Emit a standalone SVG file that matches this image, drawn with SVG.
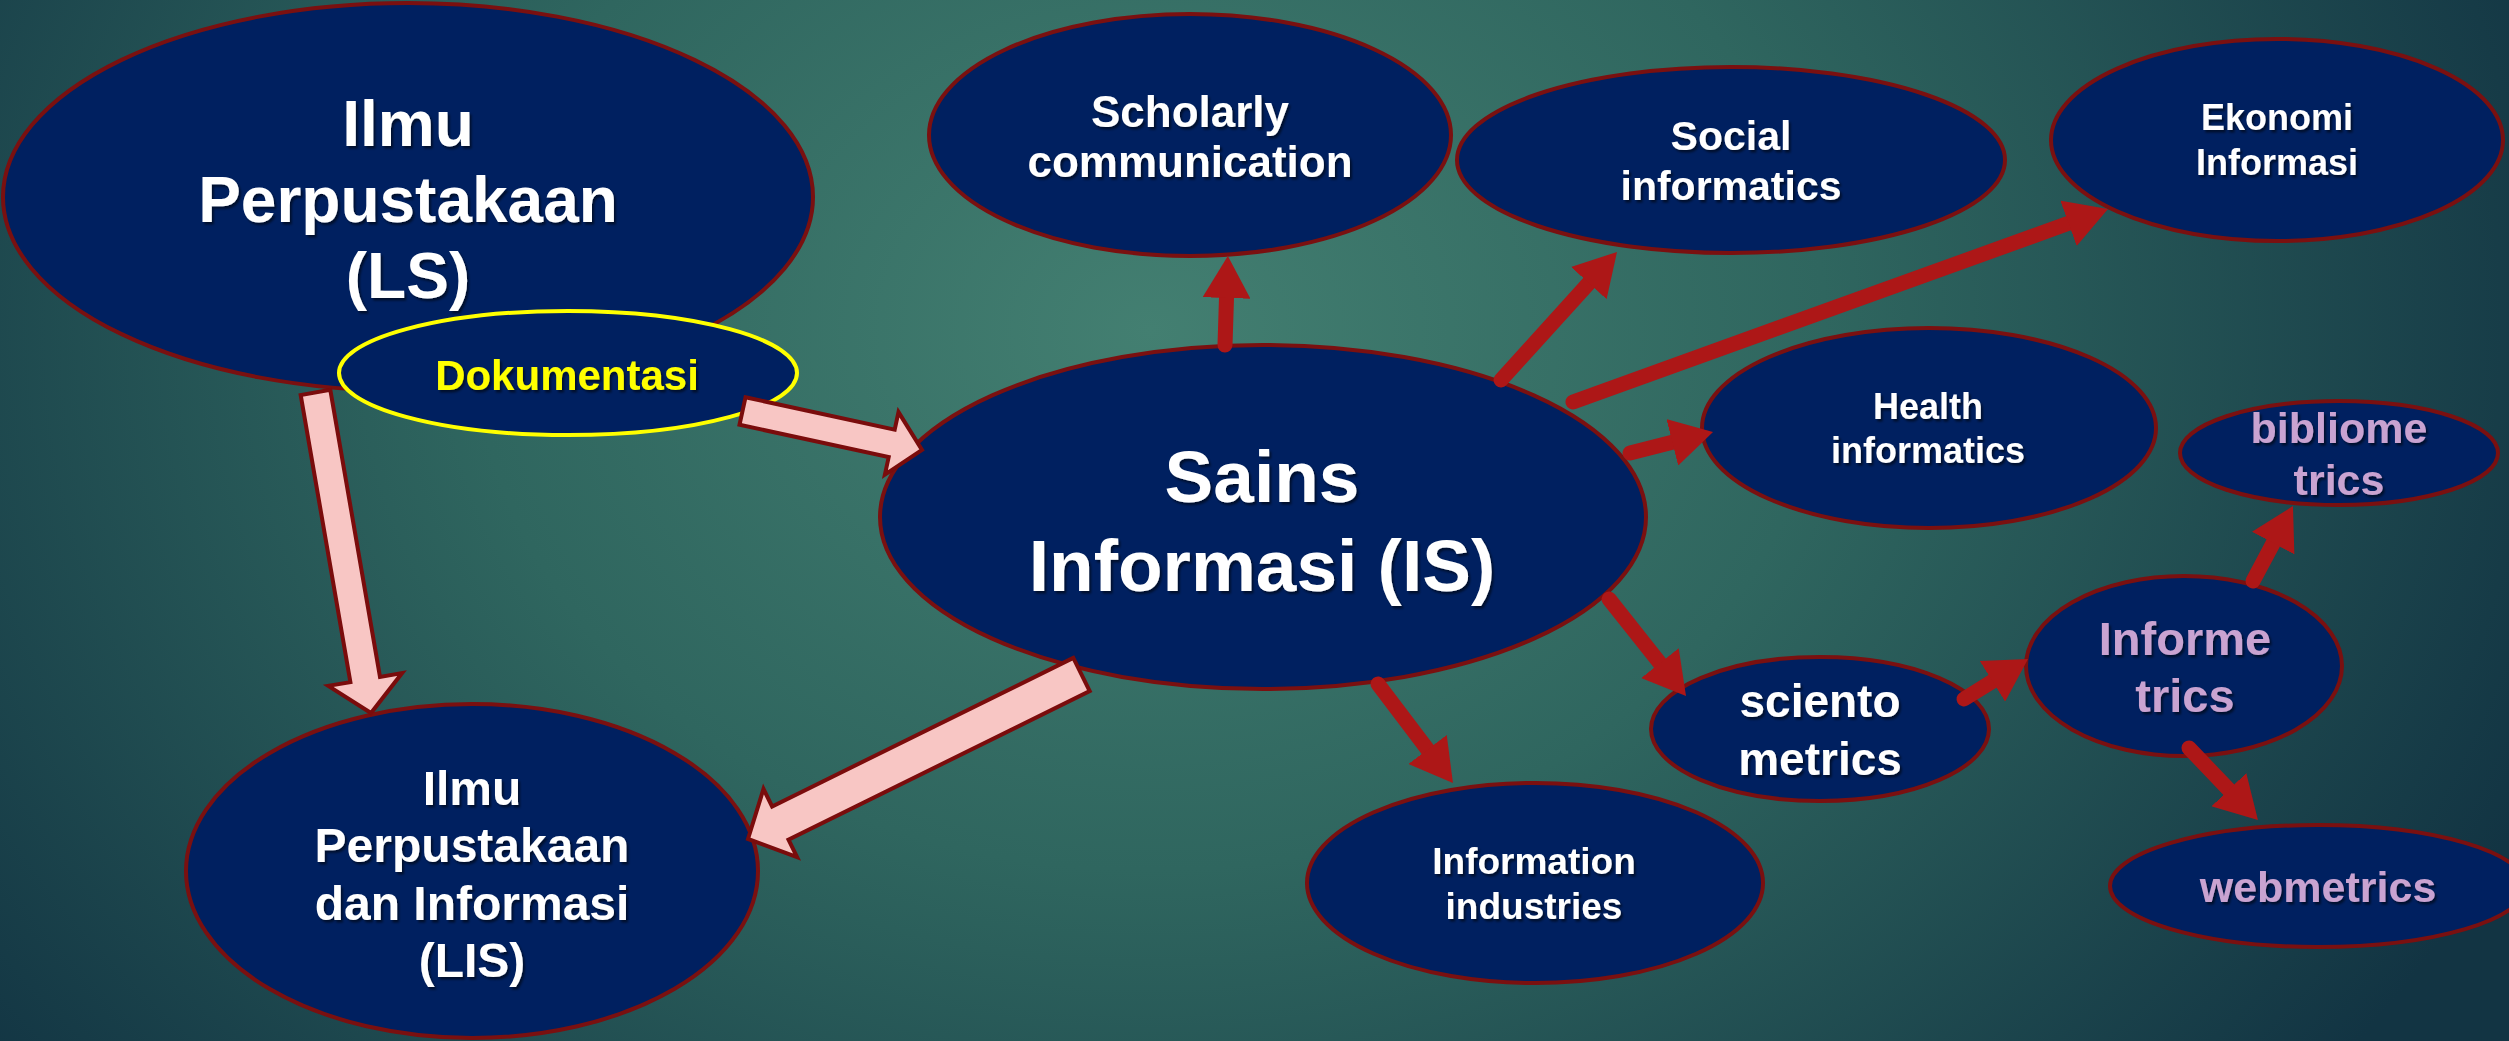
<svg xmlns="http://www.w3.org/2000/svg" width="2509" height="1041" viewBox="0 0 2509 1041">
  <defs>
    <radialGradient id="bg" gradientUnits="userSpaceOnUse" cx="1150" cy="330" r="1500" gradientTransform="translate(1150 330) scale(1 0.8) translate(-1150 -330)">
      <stop offset="0" stop-color="#437f71"/>
      <stop offset="0.45" stop-color="#2f665f"/>
      <stop offset="1" stop-color="#123443"/>
    </radialGradient>
    <filter id="shadow" x="-10%" y="-10%" width="120%" height="130%">
      <feDropShadow dx="2" dy="2.5" stdDeviation="1.2" flood-color="#000000" flood-opacity="0.55"/>
    </filter>
    <marker id="head" markerUnits="userSpaceOnUse" viewBox="0 0 42 48" markerWidth="42" markerHeight="48" refX="0" refY="24" orient="auto">
      <path d="M0,0 L42,24 L0,48 Z" fill="#ad1717"/>
    </marker>
    <style>
      .node { fill: #002060; stroke: #7a1010; stroke-width: 4; }
      .doc { fill: #002060; stroke: #ffff00; stroke-width: 4; }
      .t { font-family: "Liberation Sans", Arial, sans-serif; font-weight: bold; text-anchor: middle; filter: url(#shadow); }
      .w { fill: #ffffff; }
      .y { fill: #ffff00; }
      .l { fill: #c9a3d1; }
      .block { fill: #f8c6c4; stroke: #7a0c0c; stroke-width: 4; stroke-linejoin: miter; }
      .red { stroke: #ad1717; stroke-width: 15; stroke-linecap: round; fill: none; marker-end: url(#head); }
    </style>
  </defs>

  <rect x="0" y="0" width="2509" height="1041" fill="url(#bg)"/>

  <g id="nodes">
    <g id="ls">
      <ellipse class="node" cx="408" cy="197" rx="405" ry="194"/>
      <text class="t w" font-size="64" x="408" y="146">Ilmu</text>
      <text class="t w" font-size="64" x="408" y="222">Perpustakaan</text>
      <text class="t w" font-size="64" x="408" y="298">(LS)</text>
    </g>
    <g id="dokumentasi">
      <ellipse class="doc" cx="568" cy="373" rx="229" ry="62"/>
      <text class="t y" font-size="42" x="567" y="390">Dokumentasi</text>
    </g>
    <g id="is">
      <ellipse class="node" cx="1263" cy="517" rx="383" ry="172"/>
      <text class="t w" font-size="73" x="1262" y="502">Sains</text>
      <text class="t w" font-size="73" x="1262" y="591">Informasi (IS)</text>
    </g>
    <g id="scholarly">
      <ellipse class="node" cx="1190" cy="135" rx="261" ry="121"/>
      <text class="t w" font-size="44" x="1190" y="127">Scholarly</text>
      <text class="t w" font-size="44" x="1190" y="177">communication</text>
    </g>
    <g id="social">
      <ellipse class="node" cx="1731" cy="160" rx="274" ry="93"/>
      <text class="t w" font-size="41" x="1731" y="150">Social</text>
      <text class="t w" font-size="41" x="1731" y="200">informatics</text>
    </g>
    <g id="ekonomi">
      <ellipse class="node" cx="2277" cy="140" rx="226" ry="101"/>
      <text class="t w" font-size="36" x="2277" y="130">Ekonomi</text>
      <text class="t w" font-size="36" x="2277" y="175">Informasi</text>
    </g>
    <g id="health">
      <ellipse class="node" cx="1929" cy="428" rx="227" ry="100"/>
      <text class="t w" font-size="36" x="1928" y="419">Health</text>
      <text class="t w" font-size="36" x="1928" y="463">informatics</text>
    </g>
    <g id="bibliometrics">
      <ellipse class="node" cx="2339" cy="453" rx="159" ry="52"/>
      <text class="t l" font-size="43" x="2339" y="443">bibliome</text>
      <text class="t l" font-size="43" x="2339" y="495">trics</text>
    </g>
    <g id="informetrics">
      <ellipse class="node" cx="2184" cy="666" rx="158" ry="90"/>
      <text class="t l" font-size="47" x="2185" y="655">Informe</text>
      <text class="t l" font-size="47" x="2185" y="712">trics</text>
    </g>
    <g id="scientometrics">
      <ellipse class="node" cx="1820" cy="729" rx="169" ry="72"/>
      <text class="t w" font-size="46" x="1820" y="717">sciento</text>
      <text class="t w" font-size="46" x="1820" y="775">metrics</text>
    </g>
    <g id="webmetrics">
      <ellipse class="node" cx="2318" cy="886" rx="208" ry="61"/>
      <text class="t l" font-size="43" x="2318" y="902">webmetrics</text>
    </g>
    <g id="industries">
      <ellipse class="node" cx="1535" cy="883" rx="228" ry="100"/>
      <text class="t w" font-size="37" x="1534" y="874">Information</text>
      <text class="t w" font-size="37" x="1534" y="919">industries</text>
    </g>
    <g id="lis">
      <ellipse class="node" cx="472" cy="871" rx="286" ry="167"/>
      <text class="t w" font-size="48" x="472" y="805">Ilmu</text>
      <text class="t w" font-size="48" x="472" y="862">Perpustakaan</text>
      <text class="t w" font-size="48" x="472" y="920">dan Informasi</text>
      <text class="t w" font-size="48" x="472" y="977">(LIS)</text>
    </g>
  </g>

  <g id="connectors">
    <!-- block arrows -->
    <polygon class="block" points="300.7,395.1 350.4,682.1 328.3,685.9 371,713 402.1,673.1 380.0,676.9 330.3,389.9"/>
    <polygon class="block" points="745.5,397.3 894.7,429.7 898.5,412.1 922,450 884.9,474.7 888.7,457.1 739.5,424.7"/>
    <polygon class="block" points="1073.3,657.9 772.1,806.5 763.5,789.0 748,839 797.1,857.2 788.5,839.7 1089.7,691.1"/>
    <!-- red arrows: shaft ends at the head base -->
    <line class="red" x1="1225" y1="345" x2="1226.5" y2="298"/>
    <line class="red" x1="1501" y1="380" x2="1588.8" y2="283.1"/>
    <line class="red" x1="1573" y1="402" x2="2068.5" y2="223.3" stroke-width="19"/>
    <line class="red" x1="1630" y1="453" x2="1672.3" y2="442.3"/>
    <line class="red" x1="1609" y1="599" x2="1659.9" y2="663.1"/>
    <line class="red" x1="1378" y1="684" x2="1427.6" y2="749.5"/>
    <line class="red" x1="1964" y1="699" x2="1992.4" y2="681.3"/>
    <line class="red" x1="2253" y1="581" x2="2273.2" y2="543.1"/>
    <line class="red" x1="2189" y1="748" x2="2228.9" y2="789.7"/>
  </g>
</svg>
